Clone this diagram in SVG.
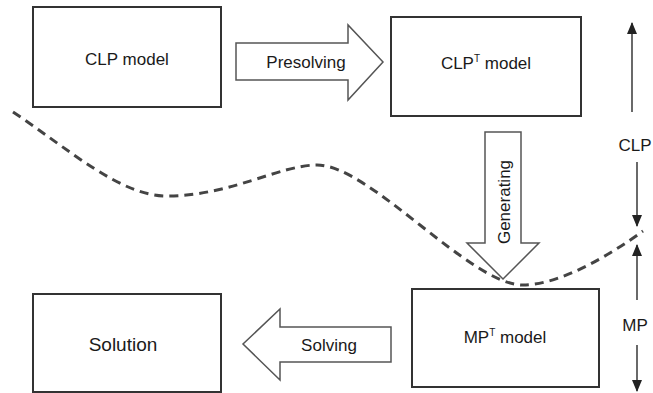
<svg xmlns="http://www.w3.org/2000/svg" width="653" height="393" viewBox="0 0 653 393">
  <style>
    .box { fill: #ffffff; stroke: #333333; stroke-width: 2; }
    .block { fill: #ffffff; stroke: #555555; stroke-width: 1.5; stroke-linejoin: miter; }
    .lbl { font-family: "Liberation Sans", Arial, sans-serif; font-size: 17px; fill: #1a1a1a; text-anchor: middle; }
    .sup { font-size: 10px; }
    .dim { stroke: #444444; stroke-width: 1.6; fill: none; }
    .boundary { fill: none; stroke: #444444; stroke-width: 3; stroke-dasharray: 9 6; }
  </style>
  <defs>
    <marker id="head" viewBox="0 0 12 10" refX="11" refY="5" markerWidth="12" markerHeight="10" orient="auto" markerUnits="userSpaceOnUse">
      <path d="M0,0 L12,5 L0,10 Z" fill="#222222"/>
    </marker>
  </defs>
  <rect width="653" height="393" fill="#ffffff"/>

  <!-- dashed boundary between the CLP and MP layers -->
  <path class="boundary" d="M13,112 C70,150 120,196 167,196 C230,196 280,165 317,165 C370,165 470,285 523,285 C560,285 610,255 643,231"/>

  <!-- transformation steps (block arrows) -->
  <g id="connectors">
    <g id="presolving">
      <path class="block" d="M236,43 L348,43 L348,25 L383,62 L348,100 L348,80 L236,80 Z"/>
      <text class="lbl" x="306" y="68">Presolving</text>
    </g>
    <g id="generating">
      <path class="block" d="M485,132 L521,132 L521,243 L539,243 L503,279 L467,243 L485,243 Z"/>
      <text class="lbl" transform="translate(510,202) rotate(-90)" x="0" y="0">Generating</text>
    </g>
    <g id="solving">
      <path class="block" d="M391,327 L280,327 L280,309 L243,344 L280,380 L280,362 L391,362 Z"/>
      <text class="lbl" x="329" y="351">Solving</text>
    </g>
  </g>

  <!-- nodes -->
  <g id="clp-model">
    <rect class="box" x="33" y="7" width="188" height="100"/>
    <text class="lbl" x="127" y="65">CLP model</text>
  </g>
  <g id="clpt-model">
    <rect class="box" x="391" y="17" width="190" height="99"/>
    <text class="lbl" x="486" y="69">CLP<tspan class="sup" dy="-7">T</tspan><tspan dy="7"> model</tspan></text>
  </g>
  <g id="mpt-model">
    <rect class="box" x="412" y="289" width="187" height="98"/>
    <text class="lbl" x="505" y="343">MP<tspan class="sup" dy="-7">T</tspan><tspan dy="7"> model</tspan></text>
  </g>
  <g id="solution">
    <rect class="box" x="33" y="294" width="188" height="98"/>
    <text class="lbl" x="123" y="351" style="font-size:19px">Solution</text>
  </g>

  <!-- layer extent indicators -->
  <g id="layer-scale">
    <line class="dim" x1="632" y1="112" x2="632" y2="23" marker-end="url(#head)"/>
    <text class="lbl" x="635" y="151">CLP</text>
    <line class="dim" x1="637" y1="162" x2="637" y2="226" marker-end="url(#head)"/>
    <line class="dim" x1="637" y1="300" x2="637" y2="245" marker-end="url(#head)"/>
    <text class="lbl" x="635" y="331">MP</text>
    <line class="dim" x1="637" y1="345" x2="637" y2="391" marker-end="url(#head)"/>
  </g>
</svg>
